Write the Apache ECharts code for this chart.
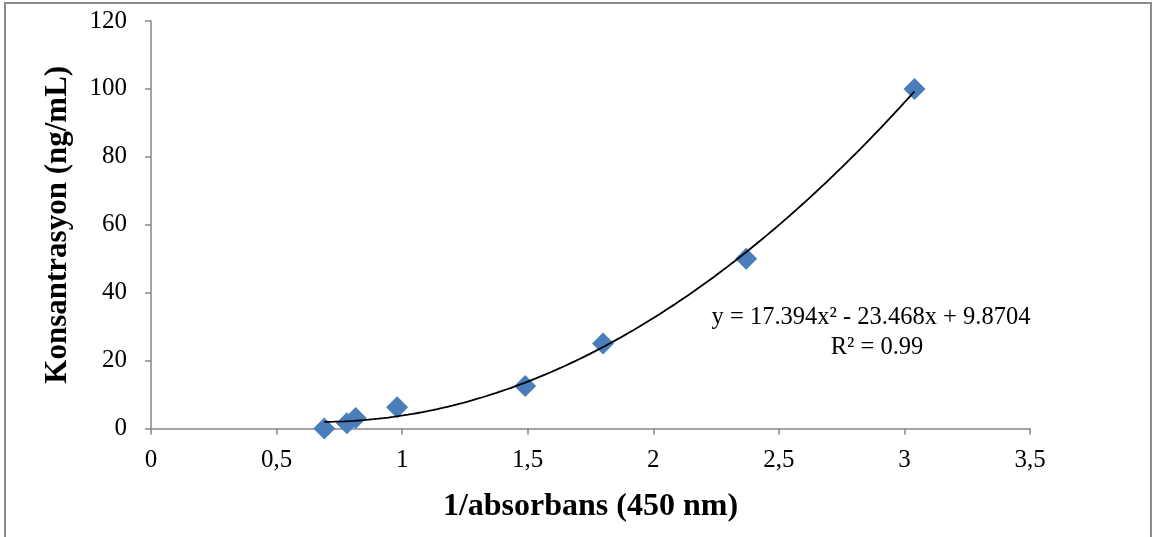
<!DOCTYPE html>
<html>
<head>
<meta charset="utf-8">
<script src="https://cdn.jsdelivr.net/npm/echarts@6/dist/echarts.min.js"></script>
<style>
  html, body { margin: 0; padding: 0; background: #fff; }
  #chart { width: 1152px; height: 537px; }
</style>
</head>
<body>
<div id="chart"></div>
<script>
// Standard curve: inverse absorbance (450 nm) vs. concentration (ng/mL)
const invAbsorbance = [0.69, 0.78, 0.815, 0.98, 1.49, 1.80, 2.37, 3.04];
const concentration = [0, 1.56, 3.125, 6.25, 12.5, 25, 50, 100];

// Second-order polynomial trendline coefficients (a·x² + b·x + c)
const trendCoef = [17.394, -23.468, 9.8704];
const trendRange = [0.69, 3.04];
const equationText = 'y = 17.394x\u00B2 - 23.468x + 9.8704';
const r2Text = 'R\u00B2 = 0.99';

const xTicks = { min: 0, max: 3.5, interval: 0.5 };
const yTicks = { min: 0, max: 120, interval: 20 };

const points = invAbsorbance.map((x, i) => [x, concentration[i]]);

const trendPoints = [];
const steps = 120;
for (let i = 0; i <= steps; i++) {
  const x = trendRange[0] + (trendRange[1] - trendRange[0]) * i / steps;
  trendPoints.push([x, trendCoef[0] * x * x + trendCoef[1] * x + trendCoef[2]]);
}

const serif = '"Liberation Serif", "Times New Roman", serif';
const axisGrey = '#868686';

const chart = echarts.init(document.getElementById('chart'), null, { renderer: 'canvas' });
chart.setOption({
  backgroundColor: '#ffffff',
  animation: false,
  grid: { left: 151, right: 122, top: 21, bottom: 108.5 },
  xAxis: {
    type: 'value',
    min: xTicks.min, max: xTicks.max, interval: xTicks.interval,
    name: '1/absorbans (450 nm)',
    nameLocation: 'middle',
    nameGap: 62,
    nameTextStyle: { fontFamily: serif, fontSize: 32, fontWeight: 'bold', color: '#000' },
    axisLine: { show: true, onZero: true, lineStyle: { color: axisGrey, width: 1.5 } },
    axisTick: { show: true, length: 6, lineStyle: { color: axisGrey, width: 1.5 } },
    axisLabel: {
      fontFamily: serif, fontSize: 25, color: '#000', margin: 19,
      formatter: v => String(v).replace('.', ',')
    },
    splitLine: { show: false }
  },
  yAxis: {
    type: 'value',
    min: yTicks.min, max: yTicks.max, interval: yTicks.interval,
    name: 'Konsantrasyon (ng/mL)',
    nameLocation: 'middle',
    nameGap: 78,
    nameTextStyle: { fontFamily: serif, fontSize: 31, fontWeight: 'bold', color: '#000' },
    axisLine: { show: true, lineStyle: { color: axisGrey, width: 1.5 } },
    axisTick: { show: true, length: 6, lineStyle: { color: axisGrey, width: 1.5 } },
    axisLabel: { fontFamily: serif, fontSize: 25, color: '#000', margin: 24 },
    splitLine: { show: false }
  },
  graphic: [
    {
      type: 'rect',
      shape: { x: 5, y: 3, width: 1146, height: 560 },
      style: { fill: 'none', stroke: '#8c8c8c', lineWidth: 2 },
      silent: true, z: 100
    },
    {
      type: 'text',
      x: 871, y: 318,
      style: {
        text: equationText, font: '24.5px ' + serif, fill: '#000',
        textAlign: 'center', textVerticalAlign: 'middle'
      }
    },
    {
      type: 'text',
      x: 877, y: 348,
      style: {
        text: r2Text, font: '24.5px ' + serif, fill: '#000',
        textAlign: 'center', textVerticalAlign: 'middle'
      }
    }
  ],
  series: [
    {
      type: 'line',
      data: trendPoints,
      showSymbol: false,
      symbol: 'none',
      lineStyle: { color: '#000', width: 1.8 },
      z: 3
    },
    {
      type: 'scatter',
      data: points,
      symbol: 'diamond',
      symbolSize: 22,
      itemStyle: { color: '#4A7EBB', opacity: 1 },
      z: 2
    }
  ]
});
</script>
</body>
</html>
